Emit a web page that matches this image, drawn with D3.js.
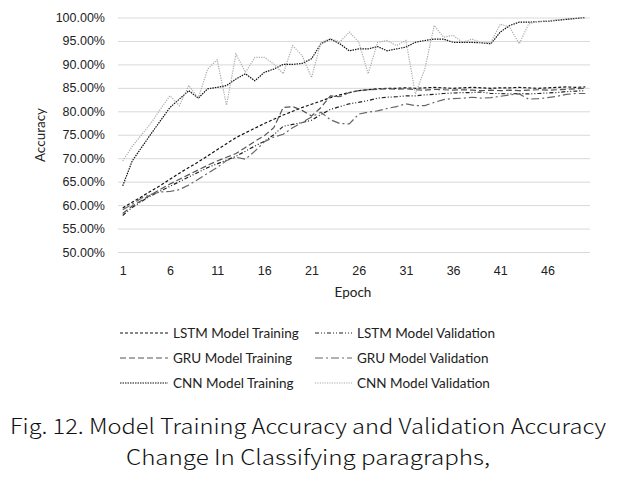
<!DOCTYPE html>
<html>
<head>
<meta charset="utf-8">
<script src="https://d3js.org/d3.v7.min.js"></script>
<style>
body{margin:0;background:#fff;}
svg{display:block;font-family:Lato,"Open Sans",sans-serif;}
.tick text{font-size:12.5px;fill:#222;}
</style>
</head>
<body>
<div id="chart"></div>
<script>
// epochs and tick labels
var epochs=d3.range(1,51);
var xTicks=[1,6,11,16,21,26,31,36,41,46];
var yTicks=[0.5,0.55,0.6,0.65,0.7,0.75,0.8,0.85,0.9,0.95,1.0];

// accuracy values (%)
var lstmTrain=[59.4,60.6,61.8,63.0,64.2,65.5,66.8,68.0,69.2,70.5,71.8,73.1,74.4,75.4,76.4,77.4,78.3,79.2,80.0,80.8,81.5,82.2,82.9,83.5,84.0,84.4,84.6,84.8,84.9,84.9,85.0,84.9,85.0,85.1,85.0,84.9,85.0,85.1,85.0,84.9,85.0,85.0,85.1,85.0,84.9,85.0,85.1,85.2,85.1,85.2];
var lstmVal=[57.8,59.5,60.8,62.0,63.0,64.0,65.0,66.0,67.0,68.0,68.8,69.6,70.4,71.5,72.6,73.6,75.0,76.8,77.2,77.6,78.1,79.3,80.4,81.0,81.6,81.9,82.3,82.8,83.0,83.1,83.3,83.3,83.5,83.6,83.8,83.9,84.0,84.0,84.1,83.8,83.8,83.7,83.8,83.7,83.8,83.9,84.0,84.2,84.3,84.4];
var gruTrain=[58.2,59.8,61.0,62.2,63.4,64.5,65.5,66.5,67.5,68.5,69.4,70.2,71.0,72.3,73.6,74.8,76.5,80.8,81.0,80.2,79.0,80.8,83.3,83.1,84.0,84.4,84.6,84.7,84.8,84.7,84.8,84.6,84.5,84.7,84.6,84.5,84.6,84.5,84.4,84.5,84.4,84.5,84.4,84.5,84.6,84.5,84.6,84.7,84.8,84.9];
var gruVal=[59.0,60.2,61.5,62.3,62.8,62.9,63.3,64.3,65.5,66.8,68.0,69.5,70.2,69.8,71.5,73.5,74.5,75.1,76.5,77.6,78.8,79.8,78.2,77.4,77.3,79.4,79.8,80.1,80.6,81.0,81.6,81.2,81.2,81.9,82.5,82.7,82.8,83.0,82.8,82.9,83.2,83.5,83.7,82.6,82.7,82.9,83.2,83.6,83.8,83.8];
var cnnTrain=[64.1,69.4,72.3,75.2,78.0,80.8,82.6,84.4,82.8,84.8,85.1,85.5,86.9,88.0,86.5,88.3,89.0,90.0,90.0,90.2,91.2,94.4,95.4,94.4,92.9,93.3,93.3,93.8,92.9,93.3,93.7,94.7,95.1,95.4,95.4,94.7,94.7,94.7,94.6,94.4,96.9,98.3,99.0,99.0,99.1,99.2,99.4,99.6,99.8,100.0];
var cnnVal=[69.4,72.5,75.0,77.5,80.5,83.3,81.2,85.5,82.8,89.0,91.0,81.3,92.2,88.3,91.5,91.5,90.1,88.0,94.0,91.9,87.2,94.7,95.5,94.8,96.9,94.8,88.0,94.7,95.1,94.0,95.1,83.7,89.0,98.3,95.8,96.2,94.7,95.4,94.6,94.7,98.6,97.9,94.4,98.6,99.2,99.3,99.5,99.6,99.8,100.0];

// series names and line styles
var seriesNames=["LSTM Model Training","LSTM Model Validation","GRU Model Training","GRU Model Validation","CNN Model Training","CNN Model Validation"];
var seriesValues=[lstmTrain,lstmVal,gruTrain,gruVal,cnnTrain,cnnVal];
var seriesColors=["#111","#222","#555","#666","#111","#aaa"];
var seriesDash=["3,2","4,2,1,2,1,2","6,3","8,3,2,3","1.5,1","1.2,1.2"];

// set svg dimension
var svgWidth=631;
var svgHeight=481;
var plotLeft=118,plotRight=590,plotTop=17.5,plotBottom=252;

var svg=d3.select("#chart")
.append("svg")
.attr("width",svgWidth)
.attr("height",svgHeight);

// scales
var xScale=d3.scalePoint()
.domain(epochs)
.range([plotLeft,plotRight])
.padding(0.5);

var yScale=d3.scaleLinear()
.domain([0.5,1.0])
.range([plotBottom,plotTop]);

// y axis with gridlines
var yAxis=svg.append("g")
.attr("transform",`translate(${plotLeft},0)`)
.call(d3.axisLeft(yScale)
    .tickValues(yTicks)
    .tickFormat(d3.format(".2%"))
    .tickSize(-(plotRight-plotLeft))
    .tickPadding(13));
yAxis.select(".domain").remove();
yAxis.selectAll(".tick line").attr("stroke","#d9d9d9");

// x axis
var xAxis=svg.append("g")
.attr("transform",`translate(0,${plotBottom})`)
.call(d3.axisBottom(xScale)
    .tickValues(xTicks)
    .tickSize(0)
    .tickPadding(14));
xAxis.select(".domain").remove();

// axis titles
svg.append("text")
.attr("x",353)
.attr("y",297)
.attr("text-anchor","middle")
.attr("font-size","13.5px")
.attr("fill","#222")
.text("Epoch");

svg.append("text")
.attr("transform","translate(45,135) rotate(-90)")
.attr("text-anchor","middle")
.attr("font-size","13.5px")
.attr("fill","#222")
.text("Accuracy");

// lines
var line=d3.line()
.x((d,i)=>xScale(epochs[i]))
.y(d=>yScale(d/100));

svg.append("g")
.selectAll("path")
.data(seriesValues)
.enter()
.append("path")
.attr("d",d=>line(d))
.attr("fill","none")
.attr("stroke",(d,i)=>seriesColors[i])
.attr("stroke-width",1.2)
.attr("stroke-dasharray",(d,i)=>seriesDash[i]);

// legend
var legendPos=[[120,333],[315,333],[120,358],[315,358],[120,383],[315,383]];
var legendLen=[48,37,48,37,48,37];
var legend=svg.append("g")
.selectAll("g")
.data(seriesNames)
.enter()
.append("g")
.attr("transform",(d,i)=>`translate(${legendPos[i][0]},${legendPos[i][1]})`);

legend.append("line")
.attr("x1",0)
.attr("x2",(d,i)=>legendLen[i])
.attr("y1",0)
.attr("y2",0)
.attr("stroke",(d,i)=>seriesColors[i])
.attr("stroke-width",1.2)
.attr("stroke-dasharray",(d,i)=>seriesDash[i]);

legend.append("text")
.attr("x",(d,i)=>legendLen[i]+5)
.attr("y",4.5)
.attr("font-size","13.5px")
.attr("fill","#222")
.text(d=>d);

// caption
svg.append("text")
.attr("x",308)
.attr("y",434)
.attr("text-anchor","middle")
.attr("font-family","'Noto Sans CJK KR',sans-serif")
.attr("font-weight",300)
.attr("font-size","21px")
.attr("fill","#111")
.attr("textLength",596)
.attr("lengthAdjust","spacingAndGlyphs")
.text("Fig. 12. Model Training Accuracy and Validation Accuracy");

svg.append("text")
.attr("x",308)
.attr("y",465)
.attr("text-anchor","middle")
.attr("font-family","'Noto Sans CJK KR',sans-serif")
.attr("font-weight",300)
.attr("font-size","21px")
.attr("fill","#111")
.attr("textLength",364)
.attr("lengthAdjust","spacingAndGlyphs")
.text("Change In Classifying paragraphs,");
</script>
</body>
</html>
